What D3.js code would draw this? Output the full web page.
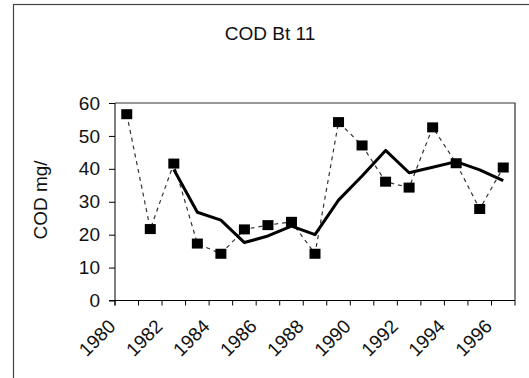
<!DOCTYPE html>
<html lang="en">
<head>
    <meta charset="UTF-8">
    <script src="https://d3js.org/d3.v7.min.js"></script>
    <title>COD Bt 11</title>
    <style>
        body { margin: 0; background: #fff; }
        text { font-family: "Liberation Sans", Arial, sans-serif; fill: #111; }
    </style>
</head>
<body>
    <svg width="529" height="378"></svg>
    <script>
        var years = [1980, 1981, 1982, 1983, 1984, 1985, 1986, 1987, 1988,
                     1989, 1990, 1991, 1992, 1993, 1994, 1995, 1996];
        var cod = [56.6, 21.7, 41.6, 17.3, 14.2, 21.6, 22.9, 23.9, 14.2,
                   54.2, 47.1, 36.1, 34.3, 52.6, 41.7, 27.8, 40.4];
        // trend line, starts at 1982
        var trend = [null, null, 39.8, 26.8, 24.4, 17.6, 19.6, 22.6, 20.0,
                     30.5, 37.8, 45.6, 38.8, 40.5, 42.2, 39.7, 36.4];
        var yTicks = [0, 10, 20, 30, 40, 50, 60];
        var xLabels = [1980, 1982, 1984, 1986, 1988, 1990, 1992, 1994, 1996];

        (function() {
        var svg = d3.select('svg');
        var pLeft = 115, pRight = 515, pTop = 103, pBottom = 300.5;

        // outer chart frame (runs off the picture on right and bottom)
        svg.append('rect')
            .attr('x', 13.5).attr('y', 4.5)
            .attr('width', 600).attr('height', 500)
            .attr('fill', 'none').attr('stroke', '#444').attr('stroke-width', 1.2);

        svg.append('text')
            .attr('x', 270).attr('y', 40)
            .attr('text-anchor', 'middle')
            .style('font-size', '19px')
            .text('COD Bt 11');

        var x = d3.scaleBand().domain(years).range([pLeft, pRight]);
        var y = d3.scaleLinear().domain([0, 60]).range([pBottom, pTop]);

        // plot frame top and right
        svg.append('path')
            .attr('d', 'M' + pLeft + ',' + pTop + 'H' + pRight + 'V' + pBottom)
            .attr('fill', 'none').attr('stroke', '#333').attr('stroke-width', 1.2);

        // y axis
        var yAxis = svg.append('g')
            .attr('transform', 'translate(' + pLeft + ',0)')
            .call(d3.axisLeft(y).tickValues(yTicks).tickSize(6).tickPadding(9));
        yAxis.selectAll('text').style('font-size', '19px');
        yAxis.select('.domain').attr('d', 'M0,' + pTop + 'V' + (pBottom + 5));

        // x axis with ticks on band edges
        var xg = svg.append('g').attr('transform', 'translate(0,' + pBottom + ')');
        xg.append('line')
            .attr('x1', pLeft - 6).attr('x2', pRight)
            .attr('stroke', '#000');
        var edges = years.map(function(d) { return x(d); }).concat([pRight]);
        xg.selectAll('.tk').data(edges).join('line')
            .attr('class', 'tk')
            .attr('x1', function(d) { return d; }).attr('x2', function(d) { return d; })
            .attr('y1', 0).attr('y2', 5)
            .attr('stroke', '#000');
        xg.selectAll('.lbl').data(xLabels).join('text')
            .attr('class', 'lbl')
            .attr('text-anchor', 'end')
            .style('font-size', '19px')
            .attr('transform', function(d) {
                var cx = x(d) + x.bandwidth() / 2 - 10;
                return 'translate(' + cx + ',' + 27 + ') rotate(-45)';
            })
            .text(function(d) { return d; });

        svg.append('text')
            .attr('text-anchor', 'middle')
            .attr('transform', 'translate(47,200) rotate(-90)')
            .style('font-size', '19px')
            .text('COD mg/');

        var cx = function(d, i) { return x(years[i]) + x.bandwidth() / 2; };

        svg.append('path')
            .datum(cod)
            .attr('fill', 'none')
            .attr('stroke', '#333')
            .attr('stroke-width', 1.2)
            .attr('stroke-dasharray', '4,4')
            .attr('d', d3.line().x(cx).y(function(d) { return y(d); }));

        svg.append('path')
            .datum(trend)
            .attr('fill', 'none')
            .attr('stroke', '#000')
            .attr('stroke-width', 3)
            .attr('stroke-linejoin', 'round')
            .attr('d', d3.line()
                .defined(function(d) { return d !== null; })
                .x(cx).y(function(d) { return y(d); }));

        svg.selectAll('.pt').data(cod).join('rect')
            .attr('class', 'pt')
            .attr('x', function(d, i) { return cx(d, i) - 5.5; })
            .attr('y', function(d) { return y(d) - 5; })
            .attr('width', 11).attr('height', 10)
            .attr('fill', '#000');
        })();
    </script>
</body>
</html>
